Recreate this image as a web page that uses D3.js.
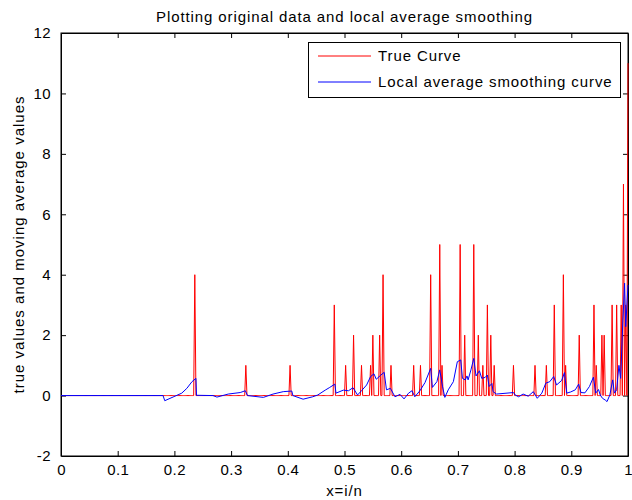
<!DOCTYPE html>
<html>
<head>
<meta charset="utf-8">
<script src="https://cdn.jsdelivr.net/npm/d3@7"></script>
<style>
  body { margin: 0; background: #fff; }
  svg { display: block; font-family: "Liberation Sans", Arial, sans-serif; }
</style>
</head>
<body>
<svg id="chart" width="632" height="500"></svg>
<script>
// spikes of the true curve (x = i/n, value); zero everywhere else
const nSamples = 500;
const spikeX = [0.2363, 0.3263, 0.4039, 0.4815, 0.5021, 0.5168, 0.5291, 0.5450, 0.5497, 0.5621,
  0.5684, 0.5815, 0.6226, 0.6349, 0.6520, 0.6679, 0.6720, 0.7037, 0.7125, 0.7284,
  0.7354, 0.7448, 0.7513, 0.7584, 0.7637, 0.7977, 0.8354, 0.8559, 0.8700, 0.8859,
  0.8901, 0.9131, 0.9395, 0.9436, 0.9536, 0.9577, 0.9718, 0.9797, 0.9873, 0.9924,
  0.9965, 1.0];
const spikeY = [4, 1, 1, 3, 1, 2, 1, 1, 2, 2,
  4, 1, 1, 1, 4, 5, 1, 5, 2, 5,
  2, 1, 3, 2, 1, 1, 1, 1, 3, 4,
  1, 2, 3, 1, 2, 2, 3, 3, 3, 7,
  3, 11];

// local average smoothing curve
const smoothX = [0, 0.180, 0.183, 0.213, 0.222, 0.231, 0.238, 0.239, 0.268, 0.275,
  0.295, 0.316, 0.325, 0.329, 0.357, 0.374, 0.392, 0.407, 0.409, 0.427,
  0.444, 0.453, 0.466, 0.474, 0.483, 0.485, 0.498, 0.507, 0.515, 0.523,
  0.530, 0.539, 0.546, 0.552, 0.556, 0.563, 0.570, 0.574, 0.581, 0.589,
  0.598, 0.605, 0.613, 0.619, 0.624, 0.633, 0.642, 0.652, 0.655, 0.663,
  0.668, 0.673, 0.677, 0.683, 0.692, 0.699, 0.705, 0.708, 0.713, 0.716,
  0.718, 0.723, 0.728, 0.732, 0.738, 0.742, 0.748, 0.752, 0.755, 0.760,
  0.762, 0.768, 0.798, 0.801, 0.807, 0.815, 0.824, 0.833, 0.840, 0.848,
  0.855, 0.862, 0.869, 0.874, 0.883, 0.888, 0.892, 0.899, 0.907, 0.913,
  0.917, 0.924, 0.932, 0.939, 0.943, 0.948, 0.951, 0.955, 0.960, 0.963,
  0.968, 0.973, 0.976, 0.980, 0.984, 0.987, 0.991, 0.994, 0.996, 1.0];
const smoothY = [0, 0, -0.17, 0.08, 0.24, 0.46, 0.57, 0.01, 0, -0.05,
  0.05, 0.10, 0.16, 0, -0.06, 0.05, 0.13, 0.15, 0, -0.12,
  -0.04, 0.02, 0.18, 0.27, 0.38, 0.08, 0.18, 0.16, 0.26, 0.02,
  0.16, 0.35, 0.63, 0.72, 0.54, 0.66, 0.77, 0.19, 0.24, -0.04,
  0.04, -0.11, 0.08, 0.16, -0.04, 0.16, 0.43, 0.90, 0.27, 0.46,
  0.85, 0.29, -0.06, 0.19, 0.46, 1.12, 1.18, 0.57, 0.52, 0.65,
  0.52, 0.85, 1.23, 0.65, 0.82, 0.57, 0.60, 0.68, 0.30, 0.40,
  0.13, 0.05, 0.10, 0.02, -0.04, 0.05, -0.02, 0.13, -0.09, 0.08,
  0.41, 0.46, 0.63, 0.35, 0.50, 0.76, 0.08, 0.12, 0.19, 0.38,
  0.10, 0.09, 0.30, 0.61, 0.08, 0.20, 0.02, -0.09, -0.15, -0.20,
  0.02, 0.52, 0.08, 0.19, 1.00, 0.57, 2.50, 3.72, 2.28, 3.66];

const xTicks = [0, 0.1, 0.2, 0.3, 0.4, 0.5, 0.6, 0.7, 0.8, 0.9, 1];
const yTicks = [-2, 0, 2, 4, 6, 8, 10, 12];

const svg = d3.select("#chart");
const mLeft = 61, mRight = 628, mTop = 33, mBottom = 456;
const fontSize = 15, spacing = "0.9px";

const xscale = d3.scaleLinear().domain([0, 1]).range([mLeft, mRight]);
const yscale = d3.scaleLinear().domain([-2, 12]).range([mBottom, mTop]);

// red series: sampled at i/n, zero except at spikes
const trueVals = new Array(nSamples + 1).fill(0);
spikeX.forEach((x, i) => { trueVals[Math.round(x * nSamples)] = spikeY[i]; });
const trueData = trueVals.map((v, i) => [i / nSamples, v]);
const smoothData = smoothX.map((x, i) => [x, smoothY[i]]);

const line = d3.line().x((d) => xscale(d[0])).y((d) => yscale(d[1]));

// axes (MATLAB style: box, ticks inward)
const tickLen = 5;
const fmt = (d) => String(d);
const axB = svg.append("g").attr("transform", `translate(0,${mBottom})`)
  .call(d3.axisBottom(xscale).tickValues(xTicks).tickSizeInner(-tickLen).tickSizeOuter(0).tickPadding(8)
    .tickFormat(fmt));
const axT = svg.append("g").attr("transform", `translate(0,${mTop})`)
  .call(d3.axisTop(xscale).tickValues(xTicks).tickSizeInner(-tickLen).tickSizeOuter(0).tickFormat(""));
const axL = svg.append("g").attr("transform", `translate(${mLeft},0)`)
  .call(d3.axisLeft(yscale).tickValues(yTicks).tickSizeInner(-tickLen).tickSizeOuter(0).tickPadding(10)
    .tickFormat(fmt));
const axR = svg.append("g").attr("transform", `translate(${mRight},0)`)
  .call(d3.axisRight(yscale).tickValues(yTicks).tickSizeInner(-tickLen).tickSizeOuter(0).tickFormat(""));

[axB, axT, axL, axR].forEach((a) => {
  a.select(".domain").attr("stroke", "#000");
  a.selectAll(".tick line").attr("stroke", "#000");
  a.selectAll("text").attr("font-size", fontSize).attr("fill", "#000")
    .attr("letter-spacing", "0.4px")
    .attr("font-family", "'Liberation Sans', Arial, sans-serif");
});
// no ticks at the box corners
axB.selectAll(".tick line").filter((d) => d === 0 || d === 1).remove();
axT.selectAll(".tick line").filter((d) => d === 0 || d === 1).remove();
axL.selectAll(".tick line").filter((d) => d === -2 || d === 12).remove();
axR.selectAll(".tick line").filter((d) => d === -2 || d === 12).remove();

svg.append("rect").attr("x", mLeft).attr("y", mTop)
  .attr("width", mRight - mLeft).attr("height", mBottom - mTop)
  .attr("fill", "none").attr("stroke", "#000").attr("stroke-width", 1);

// data lines drawn over the box
svg.append("clipPath").attr("id", "plotclip")
  .append("rect").attr("x", mLeft).attr("y", mTop)
  .attr("width", mRight - mLeft + 1).attr("height", mBottom - mTop);

const plot = svg.append("g").attr("clip-path", "url(#plotclip)");
plot.append("path").datum(trueData)
  .attr("d", line).attr("fill", "none").attr("stroke", "#ff0000").attr("stroke-width", 1);
plot.append("path").datum(smoothData)
  .attr("d", line).attr("fill", "none").attr("stroke", "#0000ff").attr("stroke-width", 1);

// labels
svg.append("text").attr("x", (mLeft + mRight) / 2).attr("y", 22)
  .attr("text-anchor", "middle").attr("font-size", fontSize).attr("letter-spacing", spacing)
  .text("Plotting original data and local average smoothing");
svg.append("text").attr("x", (mLeft + mRight) / 2).attr("y", 496)
  .attr("text-anchor", "middle").attr("font-size", fontSize).attr("letter-spacing", spacing)
  .text("x=i/n");
svg.append("text")
  .attr("transform", `translate(24,${(mTop + mBottom) / 2}) rotate(-90)`)
  .attr("text-anchor", "middle").attr("font-size", fontSize).attr("letter-spacing", "1px")
  .text("true values and moving average values");

// legend
const legend = svg.append("g");
legend.append("rect").attr("x", 308.5).attr("y", 42.5).attr("width", 312).attr("height", 55)
  .attr("fill", "#fff").attr("stroke", "#000");
const legendItems = [["True Curve", "#ff0000"], ["Local average smoothing curve", "#0000ff"]];
legendItems.forEach(([name, color], i) => {
  const y = 56 + i * 26;
  legend.append("line").attr("x1", 318).attr("x2", 371).attr("y1", y).attr("y2", y)
    .attr("stroke", color);
  legend.append("text").attr("x", 378).attr("y", y + 5).attr("font-size", fontSize)
    .attr("letter-spacing", spacing).text(name);
});
</script>
</body>
</html>
